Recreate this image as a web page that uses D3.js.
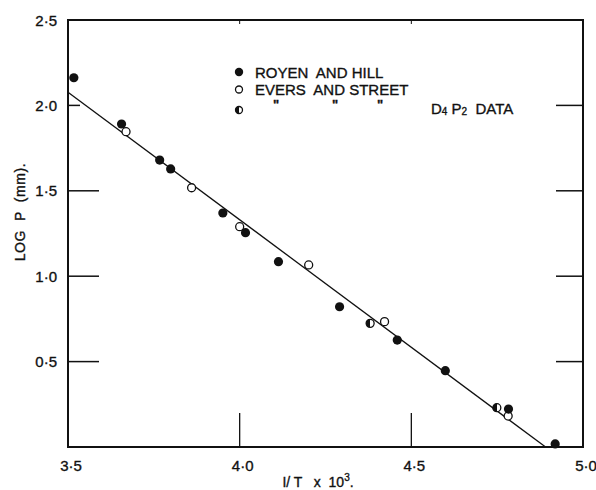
<!DOCTYPE html>
<meta charset="utf-8">
<style>
body { margin: 0; background: #fff; }
text { font-family: "Liberation Sans", Arial, sans-serif; fill: #111; stroke: #111; stroke-width: 0.35px; }
</style>
<body>
<script src="https://d3js.org/d3.v7.min.js"></script>
<script>
var width = 596,
    height = 490;

// Royen and Hill (filled)
var royenX = [3.517, 3.656, 3.767, 3.799, 3.951, 4.017, 4.113, 4.291, 4.459, 4.599, 4.783, 4.919];
var royenY = [2.162, 1.891, 1.680, 1.628, 1.370, 1.255, 1.085, 0.821, 0.626, 0.447, 0.222, 0.018];
// Evers and Street (open)
var eversX = [3.669, 3.860, 4.000, 4.201, 4.422, 4.782];
var eversY = [1.846, 1.518, 1.290, 1.066, 0.734, 0.181];
// Evers and Street, D4P2 data (half filled)
var d4p2X = [4.380, 4.749];
var d4p2Y = [0.724, 0.230];
// fitted line
var fitX = [3.5, 4.891];
var fitY = [2.077, 0.0];

var xTicks = [3.5, 4.0, 4.5, 5.0];
var yTicks = [0.5, 1.0, 1.5, 2.0, 2.5];

var margin = {top: 20, right: 13, bottom: 43, left: 68};

var x = d3.scaleLinear()
    .domain([3.5, 5.0])
    .range([margin.left, width - margin.right]);

var y = d3.scaleLinear()
    .domain([0, 2.5])
    .range([height - margin.bottom, margin.top]);

var fmt = function(d) { return d3.format(".1f")(d).replace(".", "\u00b7"); };

var svg = d3.select("body").append("svg")
    .attr("width", width)
    .attr("height", height);

// frame
svg.append("rect")
    .attr("x", x(3.5))
    .attr("y", y(2.5))
    .attr("width", x(5.0) - x(3.5))
    .attr("height", y(0) - y(2.5))
    .attr("fill", "none")
    .attr("stroke", "#111")
    .attr("stroke-width", 2);

// inward ticks
var yInner = yTicks.filter(function(d) { return d < 2.5; });
svg.selectAll(".ytl").data(yInner).enter().append("line")
    .attr("x1", x(3.5))
    .attr("x2", function(d) { return x(3.5) + (d == 2.0 ? 12 : 31); })
    .attr("y1", function(d) { return y(d); })
    .attr("y2", function(d) { return y(d); })
    .attr("stroke", "#111").attr("stroke-width", 1.5);

svg.selectAll(".ytr").data(yInner).enter().append("line")
    .attr("x1", x(5.0))
    .attr("x2", x(5.0) - 27)
    .attr("y1", function(d) { return y(d); })
    .attr("y2", function(d) { return y(d); })
    .attr("stroke", "#111").attr("stroke-width", 1.5);

var xInner = xTicks.filter(function(d) { return d > 3.5 && d < 5.0; });
svg.selectAll(".xtb").data(xInner).enter().append("line")
    .attr("x1", function(d) { return x(d); })
    .attr("x2", function(d) { return x(d); })
    .attr("y1", y(0))
    .attr("y2", y(0) - 34)
    .attr("stroke", "#111").attr("stroke-width", 1.3);

svg.selectAll(".xtt").data(xInner).enter().append("line")
    .attr("x1", function(d) { return x(d); })
    .attr("x2", function(d) { return x(d); })
    .attr("y1", y(2.5))
    .attr("y2", y(2.5) + 4)
    .attr("stroke", "#111").attr("stroke-width", 1);

// tick labels
svg.selectAll(".ylab").data(yTicks).enter().append("text")
    .attr("x", x(3.5) - 11)
    .attr("y", function(d) { return y(d) + 5.5; })
    .attr("text-anchor", "end")
    .style("font-size", "15px")
    .text(fmt);

svg.selectAll(".xlab").data(xTicks).enter().append("text")
    .attr("x", function(d) { return x(d) + 3; })
    .attr("y", y(0) + 24)
    .attr("text-anchor", "middle")
    .style("font-size", "15px")
    .text(fmt);

// axis titles
var xt = svg.append("text")
    .attr("x", 318)
    .attr("y", 487)
    .attr("text-anchor", "middle")
    .style("font-size", "14px")
    .attr("xml:space", "preserve")
    .text("I/ T   x  10");
xt.append("tspan").attr("dy", -6).style("font-size", "10px").text("3");
xt.append("tspan").attr("dy", 6).text(".");

svg.append("text")
    .attr("transform", "translate(25," + 212 + ") rotate(-90)")
    .attr("text-anchor", "middle")
    .style("font-size", "14px")
    .style("letter-spacing", "0.6px")
    .attr("xml:space", "preserve")
    .text("LOG  P  (mm).");

// fit line
svg.append("line")
    .attr("x1", x(fitX[0])).attr("y1", y(fitY[0]))
    .attr("x2", x(fitX[1])).attr("y2", y(fitY[1]))
    .attr("stroke", "#111").attr("stroke-width", 1.3);

// half-filled marker
var defs = svg.append("defs");
var grad = defs.append("linearGradient").attr("id", "half");
grad.append("stop").attr("offset", "50%").attr("stop-color", "#111");
grad.append("stop").attr("offset", "50%").attr("stop-color", "#fff");

function pts(xs, ys) { return xs.map(function(v, i) { return [v, ys[i]]; }); }

svg.selectAll(".open").data(pts(eversX, eversY)).enter().append("circle")
    .attr("cx", function(d) { return x(d[0]); })
    .attr("cy", function(d) { return y(d[1]); })
    .attr("r", 4)
    .attr("fill", "#fff")
    .attr("stroke", "#111").attr("stroke-width", 1.3);

svg.selectAll(".half").data(pts(d4p2X, d4p2Y)).enter().append("circle")
    .attr("cx", function(d) { return x(d[0]); })
    .attr("cy", function(d) { return y(d[1]); })
    .attr("r", 4)
    .attr("fill", "url(#half)")
    .attr("stroke", "#111").attr("stroke-width", 1.3);

svg.selectAll(".filled").data(pts(royenX, royenY)).enter().append("circle")
    .attr("cx", function(d) { return x(d[0]); })
    .attr("cy", function(d) { return y(d[1]); })
    .attr("r", 4.6)
    .attr("fill", "#111");

// legend
var lg = svg.append("g").attr("transform", "translate(239,72)");
lg.append("circle").attr("cx", 0).attr("cy", 0).attr("r", 4.2).attr("fill", "#111");
lg.append("circle").attr("cx", 0).attr("cy", 17.5).attr("r", 3.5)
    .attr("fill", "#fff").attr("stroke", "#111").attr("stroke-width", 1.3);
lg.append("circle").attr("cx", 0).attr("cy", 38).attr("r", 3.5)
    .attr("fill", "url(#half)").attr("stroke", "#111").attr("stroke-width", 1.3);

lg.append("text").attr("x", 16).attr("y", 5.5)
    .style("font-size", "15px").attr("xml:space", "preserve")
    .text("ROYEN  AND HILL");
lg.append("text").attr("x", 16).attr("y", 23)
    .style("font-size", "15px").attr("xml:space", "preserve")
    .text("EVERS  AND STREET");
[37, 96, 141].forEach(function(dx) {
  lg.append("text").attr("x", dx).attr("y", 37)
      .attr("text-anchor", "middle")
      .style("font-size", "13px").style("font-weight", "bold").text("\"");
});
var dt = lg.append("text").attr("x", 192).attr("y", 42)
    .style("font-size", "15px").attr("xml:space", "preserve");
dt.append("tspan").text("D");
dt.append("tspan").style("font-size", "10px").attr("dy", 1).text("4");
dt.append("tspan").attr("dy", -1).text(" P");
dt.append("tspan").style("font-size", "10px").attr("dy", 1).text("2");
dt.append("tspan").attr("dy", -1).text("  DATA");
</script>
</body>
